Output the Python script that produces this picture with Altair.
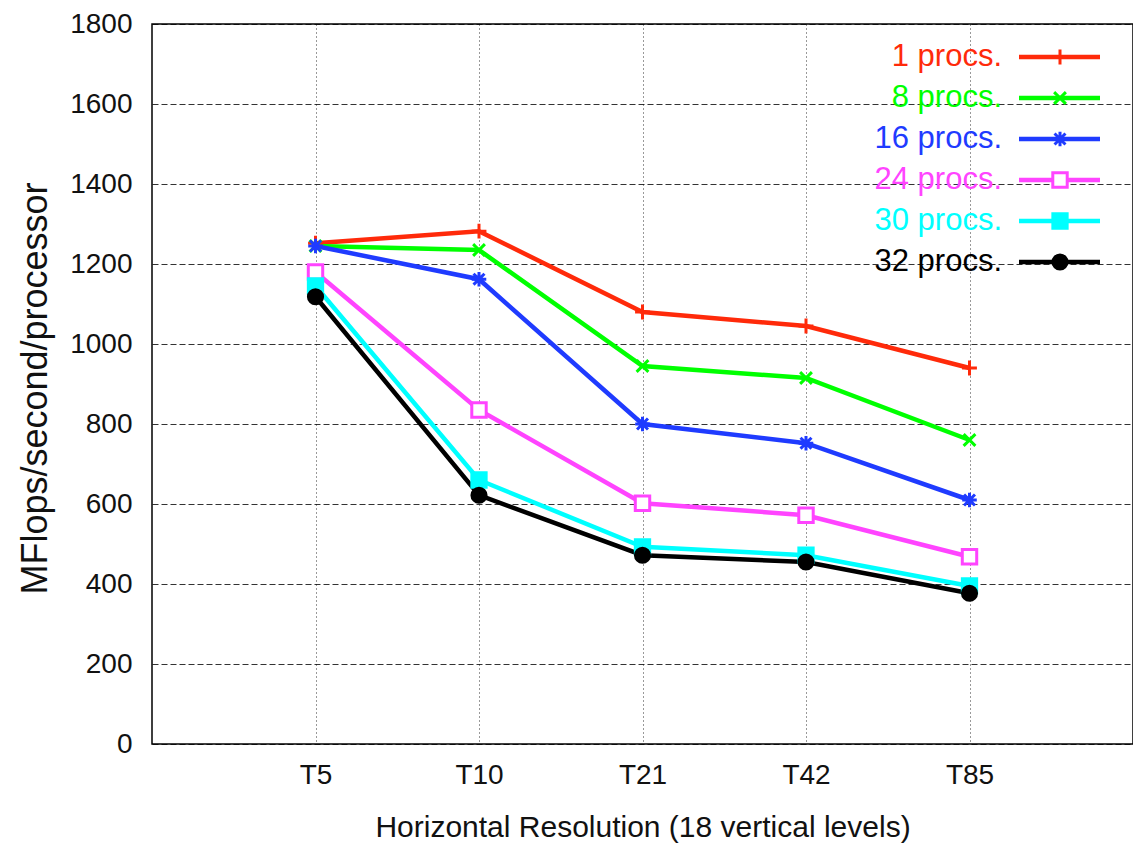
import altair as alt
import pandas as pd

resolutions = ["T5", "T10", "T21", "T42", "T85"]
series = ["1 procs.", "8 procs.", "16 procs.", "24 procs.", "30 procs.", "32 procs."]

procs_1 = [1252, 1282, 1080, 1045, 940]
procs_8 = [1245, 1235, 945, 915, 760]
procs_16 = [1245, 1162, 800, 752, 610]
procs_24 = [1180, 835, 602, 572, 468]
procs_30 = [1145, 660, 493, 472, 395]
procs_32 = [1118, 622, 472, 455, 377]

y_ticks = [0, 200, 400, 600, 800, 1000, 1200, 1400, 1600, 1800]

colors = ["#ff2a0a", "#00ff00", "#1f3bff", "#ff44ff", "#00ffff", "#000000"]
fills = ["transparent", "transparent", "transparent", "#ffffff", "#00ffff", "#000000"]
shapes = [
    "M-1,0L1,0M0,-1L0,1",
    "M-0.8,-0.8L0.8,0.8M-0.8,0.8L0.8,-0.8",
    "M-1,0L1,0M0,-1L0,1M-0.75,-0.75L0.75,0.75M-0.75,0.75L0.75,-0.75",
    "square",
    "square",
    "circle",
]
sizes = [220, 200, 220, 150, 90, 170]

all_values = [procs_1, procs_8, procs_16, procs_24, procs_30, procs_32]
rows = []
for s, vals in zip(series, all_values):
    for i, (r, v) in enumerate(zip(resolutions, vals)):
        rows.append({"series": s, "res": r, "idx": i, "value": v})
df = pd.DataFrame(rows)
leg = pd.DataFrame({"series": series})

color_scale = alt.Scale(domain=series, range=colors)
fill_scale = alt.Scale(domain=series, range=fills)
shape_scale = alt.Scale(domain=series, range=shapes)
size_scale = alt.Scale(domain=series, range=sizes)

REG = "Liberation Sans, Arial"

x_scale = alt.Scale(type="point", padding=1, domain=resolutions)

x_enc = alt.X(
    "res:O",
    sort=resolutions,
    scale=x_scale,
    axis=alt.Axis(
        title="Horizontal Resolution (18 vertical levels)",
        labelAngle=0,
        grid=True,
        gridDash=[1, 3],
        gridColor="#000000",
        gridOpacity=0.8,
        ticks=False,
        domain=False,
        labelFont=REG,
        labelFontSize=28,
        labelColor="#111111",
        labelPadding=17,
        titleFont=REG,
        titleFontSize=30,
        titleFontWeight="normal",
        titleColor="#111111",
        titleY=83,
        titleBaseline="middle",
    ),
)

y_enc = alt.Y(
    "value:Q",
    scale=alt.Scale(domain=[0, 1800], nice=False),
    axis=alt.Axis(
        values=y_ticks,
        format="d",
        title="MFlops/second/processor",
        grid=True,
        gridDash=[6, 3],
        gridColor="#000000",
        gridOpacity=0.8,
        ticks=False,
        domain=False,
        labelFont=REG,
        labelFontSize=28,
        labelColor="#111111",
        labelPadding=20,
        titleFont=REG,
        titleFontSize=36,
        titleFontWeight="normal",
        titleColor="#111111",
        titleAngle=270,
        titleX=-117,
        titleY=364,
        titleAlign="center",
        titleBaseline="middle",
    ),
)

y_noaxis = alt.Y("value:Q", scale=alt.Scale(domain=[0, 1800], nice=False), axis=None)

base = alt.Chart(df)

lines = base.mark_line(strokeWidth=4.5).encode(
    x=x_enc,
    y=y_enc,
    color=alt.Color("series:N", scale=color_scale, legend=None),
    order=alt.Order("idx:Q"),
)

points = base.mark_point(strokeWidth=3, opacity=1).encode(
    x=alt.X("res:O", sort=resolutions, scale=x_scale),
    y=y_noaxis,
    stroke=alt.Stroke("series:N", scale=color_scale, legend=None),
    fill=alt.Fill("series:N", scale=fill_scale, legend=None),
    shape=alt.Shape("series:N", scale=shape_scale, legend=None),
    size=alt.Size("series:N", scale=size_scale, legend=None),
)

leg_y = alt.Y("series:N", sort=series, scale=alt.Scale(type="point", domain=series, range=[33, 238], padding=0), axis=None)

leg_lines = alt.Chart(leg).mark_rule(strokeWidth=4.5).encode(
    x=alt.value(867),
    x2=alt.value(948),
    y=leg_y,
    color=alt.Color("series:N", scale=color_scale, legend=None),
)

leg_points = alt.Chart(leg).mark_point(strokeWidth=3, opacity=1).encode(
    x=alt.value(908),
    y=leg_y,
    stroke=alt.Stroke("series:N", scale=color_scale, legend=None),
    fill=alt.Fill("series:N", scale=fill_scale, legend=None),
    shape=alt.Shape("series:N", scale=shape_scale, legend=None),
    size=alt.Size("series:N", scale=size_scale, legend=None),
)

leg_text = alt.Chart(leg).mark_text(align="right", baseline="middle", font=REG, fontSize=31).encode(
    x=alt.value(850),
    y=leg_y,
    text="series:N",
    color=alt.Color("series:N", scale=color_scale, legend=None),
)

chart = (
    alt.layer(lines, points, leg_lines, leg_points, leg_text)
    .resolve_scale(y="independent")
    .properties(
        width=981,
        height=720,
        autosize=alt.AutoSizeParams(type="none"),
        padding={"left": 144, "top": 16, "right": 0, "bottom": 102},
        background="white",
    )
    .configure_view(stroke="#000000", strokeWidth=1.5)
)

chart.save("out.html", embed_options={"renderer": "svg", "actions": False})
